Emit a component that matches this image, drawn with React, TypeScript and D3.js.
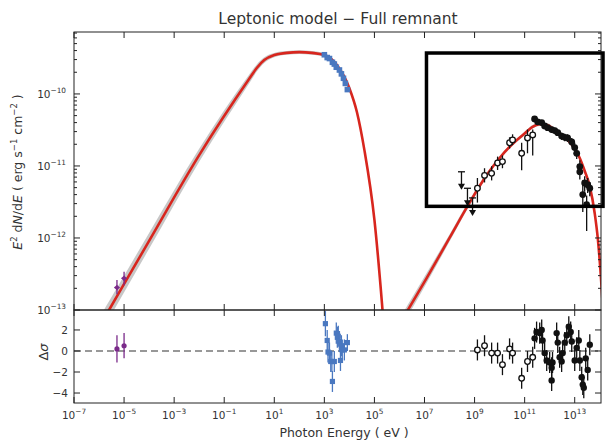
import React from 'react';
import * as d3 from 'd3';

const W = 605, H = 445;
const L = 74, R = 601, T = 32, MB = 310, RB = 403;

// axis ticks
const xTickExps = [-7, -5, -3, -1, 1, 3, 5, 7, 9, 11, 13];
const yTickExps = [-13, -12, -11, -10];
const resTicks = [2, 0, -2, -4];

// model curves (log10 E [eV], log10 F [erg s^-1 cm^-2], band half-width in dex)
const syncLogE = [-6.2, -5.6, -4.0, -2.0, 0.0, 0.3, 0.6, 1.0, 1.5, 2.0, 2.5, 3.0, 3.5, 4.0, 4.3, 4.6, 5.0, 5.3, 5.5];
const syncLogF = [-13.36, -13.0, -12.04, -10.85, -9.79, -9.64, -9.53, -9.46, -9.43, -9.42, -9.43, -9.46, -9.6, -9.92, -10.25, -10.78, -11.75, -12.9, -13.8];
const syncBand = [0.13, 0.12, 0.11, 0.09, 0.06, 0.05, 0.04, 0.03, 0.025, 0.025, 0.025, 0.025, 0.025, 0.025, 0.03, 0.035, 0.04, 0.05, 0.05];

const icLogE = [6.0, 7.08, 8.0, 8.8, 9.5, 10.0, 10.5, 11.0, 11.3, 11.6, 11.9, 12.2, 12.5, 12.8, 13.0, 13.2, 13.4, 13.6, 13.8, 13.92, 14.04, 14.15];
const icLogF = [-13.2, -12.56, -12.0, -11.51, -11.12, -10.89, -10.7, -10.55, -10.46, -10.42, -10.43, -10.5, -10.58, -10.67, -10.76, -10.89, -11.07, -11.28, -11.66, -12.0, -12.51, -13.1];
const icBand = [0.08, 0.07, 0.05, 0.04, 0.03, 0.025, 0.025, 0.025, 0.025, 0.025, 0.025, 0.025, 0.025, 0.025, 0.025, 0.025, 0.025, 0.03, 0.03, 0.035, 0.04, 0.05];

// radio (purple)
const radioE = [5.2e-6, 1.0e-5];
const radioF = [2.05e-13, 2.75e-13];
const radioHi = [2.6e-13, 3.4e-13];
const radioLo = [1.65e-13, 2.2e-13];
const radioRes = [0.2, 0.5];
const radioResErr = [1.3, 1.2];

// X-ray (blue)
const xrayE = [1.0e3, 1.3e3, 1.6e3, 2.1e3, 2.5e3, 3.0e3, 4.0e3, 4.8e3, 5.8e3, 6.9e3, 8.3e3];
const xrayF = [3.5e-10, 3.2e-10, 3.1e-10, 2.75e-10, 2.6e-10, 2.35e-10, 2.15e-10, 1.9e-10, 1.65e-10, 1.4e-10, 1.15e-10];
const xrayResE = [1.1e3, 1.3e3, 1.4e3, 1.6e3, 1.8e3, 2.0e3, 2.1e3, 2.5e3, 3.0e3, 3.3e3, 3.6e3, 4.0e3, 4.4e3, 4.8e3, 5.2e3, 6.3e3, 8.3e3];
const xrayRes = [2.6, 1.0, -0.1, -0.2, -1.0, -1.0, -2.9, -1.0, 1.7, 1.3, 1.4, 0.9, -0.9, 0.5, 0.1, 0.1, 0.8];
const xrayResErr = [1.2, 1.0, 1.0, 1.0, 1.0, 1.0, 1.0, 1.0, 1.0, 1.0, 1.0, 1.0, 1.0, 1.0, 1.0, 1.0, 0.8];

// GeV (open circles)
const gevE = [1.3e9, 2.5e9, 4.8e9, 8.3e9, 1.3e10, 2.5e10, 3.3e10, 7.6e10, 1.3e11, 2.1e11];
const gevF = [4.9e-12, 7.4e-12, 7.9e-12, 1.1e-11, 1.15e-11, 2.1e-11, 2.3e-11, 1.5e-11, 2.45e-11, 2.7e-11];
const gevHi = [6.8e-12, 9.3e-12, 9.9e-12, 1.35e-11, 1.4e-11, 2.5e-11, 2.75e-11, 2.1e-11, 3.2e-11, 3.2e-11];
const gevLo = [3.1e-12, 5.9e-12, 6.3e-12, 8.8e-12, 9.3e-12, 1.75e-11, 1.95e-11, 8.7e-12, 1.5e-11, 1.4e-11];
const gevRes = [0.1, 0.5, -0.2, -0.2, -1.3, 0.2, -0.2, -2.6, -1.0, -0.6];

// GeV upper limits
const ulE = [3.0e8, 5.2e8, 8.3e8];
const ulF = [8.3e-12, 4.9e-12, 3.6e-12];

// TeV (filled circles)
const tevE = [2.5e11, 3.3e11, 4.8e11, 6.3e11, 8.3e11, 1.2e12, 1.6e12, 2.1e12, 3.0e12, 4.0e12, 5.2e12, 7.6e12, 1.0e13, 1.2e13, 1.6e13, 1.6e13, 2.1e13, 2.5e13, 3.0e13, 3.3e13, 4.0e13];
const tevF = [4.5e-11, 4.1e-11, 4.0e-11, 3.6e-11, 3.4e-11, 3.2e-11, 3.1e-11, 2.9e-11, 2.6e-11, 2.5e-11, 2.45e-11, 2.15e-11, 1.8e-11, 1.5e-11, 9.8e-12, 8.3e-12, 4.0e-12, 5.8e-12, 2.9e-12, 5.5e-12, 4.9e-12];
const tevHi = [4.9e-11, 4.4e-11, 4.3e-11, 3.9e-11, 3.7e-11, 3.5e-11, 3.4e-11, 3.2e-11, 2.9e-11, 2.8e-11, 2.75e-11, 2.45e-11, 2.1e-11, 1.75e-11, 1.2e-11, 1.0e-11, 5.6e-12, 7.2e-12, 3.9e-12, 6.8e-12, 6.0e-12];
const tevLo = [4.1e-11, 3.8e-11, 3.7e-11, 3.3e-11, 3.1e-11, 2.9e-11, 2.8e-11, 2.6e-11, 2.3e-11, 2.2e-11, 2.15e-11, 1.85e-11, 1.5e-11, 1.25e-11, 7.8e-12, 6.5e-12, 2.3e-12, 4.4e-12, 1.25e-12, 4.2e-12, 3.8e-12];
const tevResE = [2.5e11, 3.0e11, 4.0e11, 4.8e11, 5.2e11, 6.3e11, 7.6e11, 1.0e12, 1.2e12, 1.2e12, 1.3e12, 1.9e12, 2.1e12, 2.5e12, 3.0e12, 3.3e12, 4.0e12, 4.8e12, 5.8e12, 6.9e12, 7.6e12, 1.0e13, 1.2e13, 1.45e13, 1.6e13, 1.9e13, 2.1e13, 2.3e13, 2.75e13, 3.3e13, 4.0e13];
const tevRes = [1.2, 1.8, 1.7, 2.0, 1.0, -0.2, -0.9, -1.1, -1.6, -2.8, -1.1, 1.7, 0.8, -0.6, -1.0, -0.2, 0.8, 1.5, 2.3, 1.8, 0.9, -0.9, 0.3, 1.0, -0.9, -2.5, -3.2, -3.5, -0.7, -1.8, 0.6];

// highlight box (E range, F range)
const boxE = [1.2e7, 1.35e14];
const boxF = [3.7e-10, 2.75e-12];

const RED = '#d8261e';
const BLUE = '#4a78c0';
const PURPLE = '#7a2a8a';
const TXT = '#333';
const FONT = 'DejaVu Sans, sans-serif';

export default function App() {
  const x = d3.scaleLog().domain([1e-7, Math.pow(10, 14.05)]).range([L, R]);
  const y = d3.scaleLog().domain([1e-13, Math.pow(10, -9.14)]).range([MB, T]);
  const yr = d3.scaleLinear().domain([-4.95, 3.9]).range([RB, MB]);

  const lx = d3.scaleLinear().domain([-7, 14.05]).range([L, R]);
  const ly = d3.scaleLinear().domain([-13, -9.14]).range([MB, T]);

  const mkLine = (es: number[], fs: number[]) =>
    d3.line<number>().x((_, i) => lx(es[i])).y((_, i) => ly(fs[i])).curve(d3.curveMonotoneX)(es) || '';
  const mkBand = (es: number[], fs: number[], bs: number[]) =>
    d3.area<number>().x((_, i) => lx(es[i])).y0((_, i) => ly(fs[i] - bs[i])).y1((_, i) => ly(fs[i] + bs[i])).curve(d3.curveMonotoneX)(es) || '';

  const minorY: number[] = [];
  for (let d = -13; d <= -10; d++) for (let m = 2; m <= 9; m++) {
    const v = m * Math.pow(10, d);
    if (v < Math.pow(10, -9.14)) minorY.push(v);
  }

  const sup = (base: string, exp: string, fs: number) => (
    <>
      <tspan>{base}</tspan>
      <tspan dy={-fs * 0.45} fontSize={fs * 0.7}>{exp}</tspan>
    </>
  );
  const fmtExp = (e: number) => (e < 0 ? '\u2212' + Math.abs(e) : String(e));

  const tk = 6, tkm = 3;

  return (
    <svg width={W} height={H} style={{ position: 'absolute', left: 0, top: 0, background: '#fff' }} fontFamily={FONT}>
      <defs>
        <clipPath id="mainClip"><rect x={L} y={T} width={R - L} height={MB - T} /></clipPath>
        <clipPath id="resClip"><rect x={L} y={MB} width={R - L} height={RB - MB} /></clipPath>
      </defs>

      {/* title */}
      <text x={338} y={24} textAnchor="middle" fontSize={15.5} fill={TXT}>Leptonic model − Full remnant</text>

      {/* model */}
      <g clipPath="url(#mainClip)">
        <path d={mkBand(syncLogE, syncLogF, syncBand)} fill="#bdbdbd" opacity={0.85} />
        <path d={mkBand(icLogE, icLogF, icBand)} fill="#bdbdbd" opacity={0.85} />
        <path d={mkLine(syncLogE, syncLogF)} fill="none" stroke={RED} strokeWidth={2.6} />
        <path d={mkLine(icLogE, icLogF)} fill="none" stroke={RED} strokeWidth={2.6} />

        {/* radio */}
        {radioE.map((e, i) => (
          <g key={'r' + i}>
            <line x1={x(e)} x2={x(e)} y1={y(radioHi[i])} y2={y(radioLo[i])} stroke={PURPLE} strokeWidth={1.3} />
            <line x1={x(e) - 2.5} x2={x(e) + 2.5} y1={y(radioF[i])} y2={y(radioF[i])} stroke={PURPLE} strokeWidth={1.3} />
            <rect x={x(e) - 2} y={y(radioF[i]) - 2} width={4} height={4} fill={PURPLE} transform={`rotate(45 ${x(e)} ${y(radioF[i])})`} />
          </g>
        ))}

        {/* x-ray */}
        {xrayE.map((e, i) => (
          <rect key={'x' + i} x={x(e) - 2.8} y={y(xrayF[i]) - 2.8} width={5.6} height={5.6} fill={BLUE} />
        ))}

        {/* GeV upper limits */}
        {ulE.map((e, i) => {
          const cx = x(e), cy = y(ulF[i]);
          return (
            <g key={'ul' + i}>
              <line x1={cx - 3.5} x2={cx + 3.5} y1={cy} y2={cy} stroke="#111" strokeWidth={1.3} />
              <line x1={cx} x2={cx} y1={cy} y2={cy + 13} stroke="#111" strokeWidth={1.3} />
              <path d={`M${cx - 3.5},${cy + 12} L${cx + 3.5},${cy + 12} L${cx},${cy + 18} Z`} fill="#111" />
            </g>
          );
        })}

        {/* GeV points */}
        {gevE.map((e, i) => (
          <g key={'g' + i}>
            <line x1={x(e)} x2={x(e)} y1={y(gevHi[i])} y2={y(gevLo[i])} stroke="#111" strokeWidth={1.3} />
            <circle cx={x(e)} cy={y(gevF[i])} r={2.8} fill="#fff" stroke="#111" strokeWidth={1.3} />
          </g>
        ))}

        {/* TeV points */}
        {tevE.map((e, i) => (
          <g key={'t' + i}>
            <line x1={x(e)} x2={x(e)} y1={y(tevHi[i])} y2={y(tevLo[i])} stroke="#111" strokeWidth={1.3} />
            <circle cx={x(e)} cy={y(tevF[i])} r={3.4} fill="#111" />
          </g>
        ))}
      </g>

      {/* residual panel */}
      <line x1={L} x2={R} y1={yr(0)} y2={yr(0)} stroke="#333" strokeWidth={1.2} strokeDasharray="7,4" />
      <g clipPath="url(#resClip)">
        {radioE.map((e, i) => (
          <g key={'rr' + i}>
            <line x1={x(e)} x2={x(e)} y1={yr(radioRes[i] + radioResErr[i])} y2={yr(radioRes[i] - radioResErr[i])} stroke={PURPLE} strokeWidth={1.3} />
            <circle cx={x(e)} cy={yr(radioRes[i])} r={2.6} fill={PURPLE} />
          </g>
        ))}
        {xrayResE.map((e, i) => (
          <g key={'xr' + i}>
            <line x1={x(e)} x2={x(e)} y1={yr(xrayRes[i] + xrayResErr[i])} y2={yr(xrayRes[i] - xrayResErr[i])} stroke={BLUE} strokeWidth={1.3} />
            <rect x={x(e) - 2.6} y={yr(xrayRes[i]) - 2.6} width={5.2} height={5.2} fill={BLUE} />
          </g>
        ))}
        {gevE.map((e, i) => (
          <g key={'gr' + i}>
            <line x1={x(e)} x2={x(e)} y1={yr(gevRes[i] + 1)} y2={yr(gevRes[i] - 1)} stroke="#111" strokeWidth={1.3} />
            <circle cx={x(e)} cy={yr(gevRes[i])} r={2.8} fill="#fff" stroke="#111" strokeWidth={1.3} />
          </g>
        ))}
        {tevResE.map((e, i) => (
          <g key={'tr' + i}>
            <line x1={x(e)} x2={x(e)} y1={yr(tevRes[i] + 1)} y2={yr(tevRes[i] - 1)} stroke="#111" strokeWidth={1.3} />
            <circle cx={x(e)} cy={yr(tevRes[i])} r={3.2} fill="#111" />
          </g>
        ))}
      </g>

      {/* frames */}
      <rect x={L} y={T} width={R - L} height={MB - T} fill="none" stroke="#222" strokeWidth={1} />
      <rect x={L} y={MB} width={R - L} height={RB - MB} fill="none" stroke="#222" strokeWidth={1} />

      {/* x ticks */}
      {xTickExps.map((e) => {
        const px = x(Math.pow(10, e));
        return (
          <g key={'xt' + e} stroke="#222" strokeWidth={1}>
            <line x1={px} x2={px} y1={T} y2={T + tk} />
            <line x1={px} x2={px} y1={MB - tk} y2={MB + tk} />
            <line x1={px} x2={px} y1={RB - tk} y2={RB} />
          </g>
        );
      })}
      {xTickExps.map((e) => (
        <text key={'xl' + e} x={x(Math.pow(10, e))} y={419} textAnchor="middle" fontSize={10.5} fill={TXT}>
          {sup('10', fmtExp(e), 10.5)}
        </text>
      ))}

      {/* y ticks main */}
      {yTickExps.map((e) => {
        const py = y(Math.pow(10, e));
        return (
          <g key={'yt' + e}>
            <line x1={L} x2={L + tk} y1={py} y2={py} stroke="#222" />
            <line x1={R - tk} x2={R} y1={py} y2={py} stroke="#222" />
            <text x={66} y={py + 4} textAnchor="end" fontSize={10.5} fill={TXT}>{sup('10', fmtExp(e), 10.5)}</text>
          </g>
        );
      })}
      {minorY.map((v, i) => (
        <g key={'ym' + i} stroke="#222">
          <line x1={L} x2={L + tkm} y1={y(v)} y2={y(v)} />
          <line x1={R - tkm} x2={R} y1={y(v)} y2={y(v)} />
        </g>
      ))}

      {/* y ticks residual */}
      {resTicks.map((v) => (
        <g key={'rt' + v}>
          <line x1={L} x2={L + tk} y1={yr(v)} y2={yr(v)} stroke="#222" />
          <line x1={R - tk} x2={R} y1={yr(v)} y2={yr(v)} stroke="#222" />
          <text x={68} y={yr(v) + 4} textAnchor="end" fontSize={10.5} fill={TXT}>{v < 0 ? '\u2212' + Math.abs(v) : String(v)}</text>
        </g>
      ))}

      {/* highlight box */}
      <rect x={x(boxE[0])} y={y(boxF[0])} width={x(boxE[1]) - x(boxE[0])} height={y(boxF[1]) - y(boxF[0])} fill="none" stroke="#000" strokeWidth={3.5} />

      {/* axis labels */}
      <text transform={`translate(22,172) rotate(-90)`} textAnchor="middle" fontSize={12.5} fill={TXT}>
        <tspan fontStyle="italic">E</tspan>
        <tspan dy={-5} fontSize={8.5}>2</tspan>
        <tspan dy={5}> d</tspan>
        <tspan fontStyle="italic">N</tspan>
        <tspan>/d</tspan>
        <tspan fontStyle="italic">E</tspan>
        <tspan> ( erg s</tspan>
        <tspan dy={-5} fontSize={8.5}>−1</tspan>
        <tspan dy={5}> cm</tspan>
        <tspan dy={-5} fontSize={8.5}>−2</tspan>
        <tspan dy={5}> )</tspan>
      </text>
      <text transform={`translate(48,352) rotate(-90)`} textAnchor="middle" fontSize={13} fill={TXT}>
        <tspan>Δ</tspan><tspan fontStyle="italic">σ</tspan>
      </text>
      <text x={344} y={437} textAnchor="middle" fontSize={12.5} fill={TXT}>Photon Energy ( eV )</text>
    </svg>
  );
}
